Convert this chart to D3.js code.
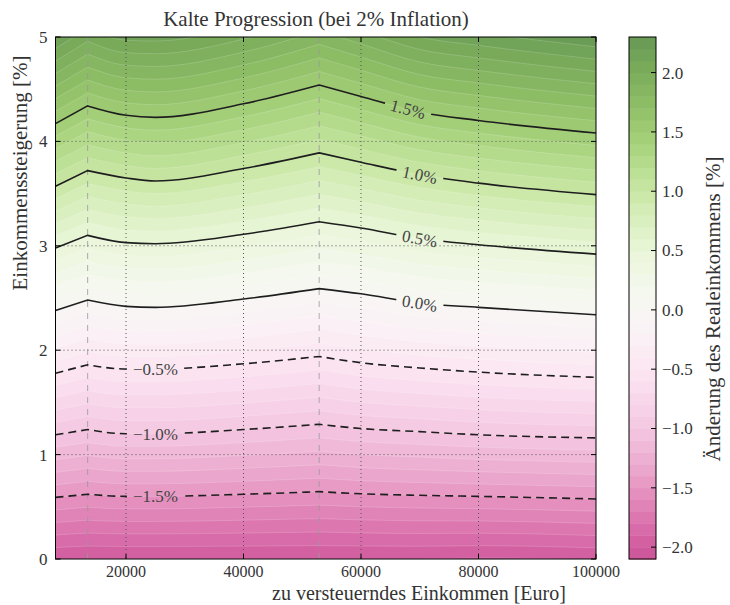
<!DOCTYPE html>
<html>
<head>
<meta charset="utf-8">
<script src="https://cdn.jsdelivr.net/npm/d3@7"></script>
<style>
  body { margin: 0; background: #fff; }
  text { font-family: "Liberation Serif", "DejaVu Serif", serif; fill: #333; }
</style>
</head>
<body>
<script>
const incomes = [8000, 13470, 20000, 25000, 40000, 52882, 60000, 70000, 80000, 100000];
const kinks = [13470, 52882];

// income growth [%] at which the real income change hits each level
const levels = [-1.5, -1.0, -0.5, 0.0, 0.5, 1.0, 1.5];
const growthM15 = [0.59, 0.62, 0.60, 0.60, 0.62, 0.645, 0.625, 0.61, 0.60, 0.575];
const growthM10 = [1.19, 1.24, 1.20, 1.20, 1.24, 1.29, 1.25, 1.22, 1.19, 1.16];
const growthM05 = [1.78, 1.86, 1.82, 1.82, 1.87, 1.94, 1.88, 1.83, 1.79, 1.74];
const growth00 = [2.38, 2.48, 2.42, 2.41, 2.49, 2.59, 2.54, 2.45, 2.41, 2.34];
const growth05 = [2.98, 3.10, 3.03, 3.02, 3.11, 3.23, 3.17, 3.07, 3.01, 2.92];
const growth10 = [3.57, 3.72, 3.65, 3.62, 3.74, 3.89, 3.80, 3.68, 3.60, 3.49];
const growth15 = [4.17, 4.34, 4.25, 4.23, 4.36, 4.54, 4.43, 4.28, 4.20, 4.08];
const contourGrowth = [growthM15, growthM10, growthM05, growth00, growth05, growth10, growth15];

const xTicks = [20000, 40000, 60000, 80000, 100000];
const yTicks = [0, 1, 2, 3, 4, 5];
const cbTicks = [-2.0, -1.5, -1.0, -0.5, 0.0, 0.5, 1.0, 1.5, 2.0];
const cbRange = [-2.1, 2.3];

const width = 730, height = 605;
const plot = { left: 55.5, right: 596, top: 37, bottom: 559 };
const cb = { left: 629, right: 656 };

const svg = d3.select("body").append("svg")
  .attr("width", width)
  .attr("height", height);

const x = d3.scaleLinear().domain([8000, 100000]).range([plot.left, plot.right]);
const y = d3.scaleLinear().domain([0, 5]).range([plot.bottom, plot.top]);
const cbY = d3.scaleLinear().domain(cbRange).range([plot.bottom, plot.top]);

// PiYG, drawn with alpha 0.75 over white
const color = (v) => d3.interpolateRgb("#fff", d3.interpolatePiYG((v + 2.5) / 5))(0.75);

// band edges every 0.1 across the colorbar range
const thresholds = d3.range(Math.round((cbRange[1] - cbRange[0]) * 10) + 1)
  .map((i) => +(cbRange[0] + i * 0.1).toFixed(1));

// growth for any level, from the read contour lines (linear between/after them)
const growthAt = (t) => incomes.map((_, i) => {
  let j = d3.bisectRight(levels, t) - 1;
  j = Math.max(0, Math.min(levels.length - 2, j));
  const g0 = contourGrowth[j][i], g1 = contourGrowth[j + 1][i];
  return g0 + (t - levels[j]) / (levels[j + 1] - levels[j]) * (g1 - g0);
});

// smooth curve through the points, but keep the kinks sharp
const traceCurve = (ctx, gs) => {
  const pts = incomes.map((inc, i) => [x(inc), y(gs[i])]);
  const cuts = [0, ...kinks.map((k) => incomes.indexOf(k)), incomes.length - 1];
  let first = true;
  const proxy = {
    moveTo(a, b) { if (first) { ctx.moveTo(a, b); first = false; } else ctx.lineTo(a, b); },
    lineTo(a, b) { ctx.lineTo(a, b); },
    bezierCurveTo(a, b, c, d, e, f) { ctx.bezierCurveTo(a, b, c, d, e, f); },
    closePath() {}
  };
  const line = d3.line().curve(d3.curveMonotoneX).context(proxy);
  for (let k = 0; k < cuts.length - 1; k++) line(pts.slice(cuts[k], cuts[k + 1] + 1));
  return ctx;
};

svg.append("clipPath").attr("id", "clip")
  .append("rect")
  .attr("x", plot.left).attr("y", plot.top)
  .attr("width", plot.right - plot.left).attr("height", plot.bottom - plot.top);

// filled bands
const bands = svg.append("g").attr("clip-path", "url(#clip)");
bands.append("rect")
  .attr("x", plot.left).attr("y", plot.top)
  .attr("width", plot.right - plot.left).attr("height", plot.bottom - plot.top)
  .attr("fill", color(cbRange[1] - 0.05));

thresholds.slice(1).reverse().forEach((t) => {
  const p = traceCurve(d3.path(), growthAt(t));
  p.lineTo(x(100000), y(-1));
  p.lineTo(x(8000), y(-1));
  p.closePath();
  bands.append("path").attr("d", p.toString()).attr("fill", color(t - 0.05));
});
thresholds.slice(1, -1).forEach((t) => {
  bands.append("path")
    .attr("d", traceCurve(d3.path(), growthAt(t)).toString())
    .attr("fill", "none")
    .attr("stroke", "#fff")
    .attr("stroke-opacity", 0.25)
    .attr("stroke-width", 0.7);
});

// dotted grid
const grid = svg.append("g")
  .attr("stroke", "#555")
  .attr("stroke-width", 1)
  .attr("stroke-dasharray", "1,3");
grid.selectAll(".gx").data(xTicks.slice(0, -1)).join("line")
  .attr("x1", (d) => x(d)).attr("x2", (d) => x(d))
  .attr("y1", plot.top).attr("y2", plot.bottom);
grid.selectAll(".gy").data(yTicks.slice(1, -1)).join("line")
  .attr("x1", plot.left).attr("x2", plot.right)
  .attr("y1", (d) => y(d)).attr("y2", (d) => y(d));

// kinks of the tax schedule
svg.append("g").selectAll("line").data(kinks).join("line")
  .attr("x1", (d) => x(d)).attr("x2", (d) => x(d))
  .attr("y1", plot.top).attr("y2", plot.bottom)
  .attr("stroke", "#999")
  .attr("stroke-opacity", 0.8)
  .attr("stroke-dasharray", "6,6");

// contour labels, the lines get a gap under them
const fmt = d3.format(".1f");
const labelData = levels.map((lv, k) => {
  const inc = lv < 0 ? 25000 : (lv === 1.5 ? 68000 : 70000);
  const gs = contourGrowth[k];
  const i = d3.bisectLeft(incomes, inc);
  const a = incomes[i - 1], b = incomes[i];
  const g = gs[i - 1] + (inc - a) / (b - a) * (gs[i] - gs[i - 1]);
  const ang = Math.atan2(y(gs[i]) - y(gs[i - 1]), x(b) - x(a)) * 180 / Math.PI;
  return { lv, k, px: x(inc), py: y(g), ang: lv < 0 ? 0 : ang };
});

const mask = svg.append("mask").attr("id", "gaps");
mask.append("rect").attr("width", width).attr("height", height).attr("fill", "#fff");

const lines = svg.append("g").attr("clip-path", "url(#clip)")
  .append("g").attr("mask", "url(#gaps)");
levels.forEach((lv, k) => {
  lines.append("path")
    .attr("d", traceCurve(d3.path(), contourGrowth[k]).toString())
    .attr("fill", "none")
    .attr("stroke", "#1e1e1e")
    .attr("stroke-width", 1.6)
    .attr("stroke-dasharray", lv < 0 ? "8,5" : null);
});

const labels = svg.append("g");
labelData.forEach((d) => {
  const t = labels.append("text")
    .attr("transform", `translate(${d.px},${d.py}) rotate(${d.ang})`)
    .attr("text-anchor", "middle")
    .attr("dy", "0.35em")
    .style("font-size", "17px")
    .style("fill", "#444")
    .text(`${fmt(d.lv)}%`);
  const w = t.node().getComputedTextLength() + 12;
  mask.append("rect")
    .attr("transform", `translate(${d.px},${d.py}) rotate(${d.ang})`)
    .attr("x", -w / 2).attr("y", -8)
    .attr("width", w).attr("height", 16)
    .attr("fill", "#000");
});

// frame and inward ticks
svg.append("rect")
  .attr("x", plot.left).attr("y", plot.top)
  .attr("width", plot.right - plot.left).attr("height", plot.bottom - plot.top)
  .attr("fill", "none").attr("stroke", "#000").attr("stroke-width", 1);

const ticks = svg.append("g").attr("stroke", "#000").attr("stroke-width", 1);
xTicks.forEach((v) => {
  ticks.append("line").attr("x1", x(v)).attr("x2", x(v)).attr("y1", plot.bottom).attr("y2", plot.bottom - 5);
  ticks.append("line").attr("x1", x(v)).attr("x2", x(v)).attr("y1", plot.top).attr("y2", plot.top + 5);
});
yTicks.forEach((v) => {
  ticks.append("line").attr("x1", plot.left).attr("x2", plot.left + 5).attr("y1", y(v)).attr("y2", y(v));
  ticks.append("line").attr("x1", plot.right).attr("x2", plot.right - 5).attr("y1", y(v)).attr("y2", y(v));
});

svg.append("g").selectAll("text").data(xTicks).join("text")
  .attr("x", (d) => x(d)).attr("y", 577)
  .attr("text-anchor", "middle")
  .style("font-size", "16px")
  .text(d3.format("d"));
svg.append("g").selectAll("text").data(yTicks).join("text")
  .attr("x", plot.left - 8).attr("y", (d) => y(d))
  .attr("dy", "0.35em")
  .attr("text-anchor", "end")
  .style("font-size", "17px")
  .text(d3.format("d"));

// colorbar
const cbG = svg.append("g");
cbG.selectAll("rect").data(thresholds.slice(0, -1)).join("rect")
  .attr("x", cb.left).attr("width", cb.right - cb.left)
  .attr("y", (d) => cbY(d + 0.1))
  .attr("height", (d) => cbY(d) - cbY(d + 0.1) + 0.5)
  .attr("fill", (d) => color(d + 0.05));
cbG.append("rect")
  .attr("x", cb.left).attr("y", plot.top)
  .attr("width", cb.right - cb.left).attr("height", plot.bottom - plot.top)
  .attr("fill", "none").attr("stroke", "#000").attr("stroke-width", 1);
cbTicks.forEach((v) => {
  cbG.append("line")
    .attr("x1", cb.right).attr("x2", cb.right - 5)
    .attr("y1", cbY(v)).attr("y2", cbY(v))
    .attr("stroke", "#000");
});
cbG.selectAll("text").data(cbTicks).join("text")
  .attr("x", cb.right + 6).attr("y", (d) => cbY(d))
  .attr("dy", "0.35em")
  .style("font-size", "17px")
  .text(fmt);

// titles
svg.append("text")
  .attr("x", 316).attr("y", 26)
  .attr("text-anchor", "middle")
  .style("font-size", "21px")
  .text("Kalte Progression (bei 2% Inflation)");
svg.append("text")
  .attr("x", 419).attr("y", 600)
  .attr("text-anchor", "middle")
  .style("font-size", "20px")
  .text("zu versteuerndes Einkommen [Euro]");
svg.append("text")
  .attr("transform", "translate(27,173) rotate(-90)")
  .attr("text-anchor", "middle")
  .style("font-size", "21px")
  .text("Einkommenssteigerung [%]");
svg.append("text")
  .attr("transform", "translate(720,309) rotate(-90)")
  .attr("text-anchor", "middle")
  .style("font-size", "21px")
  .text("Änderung des Realeinkommens [%]");
</script>
</body>
</html>
